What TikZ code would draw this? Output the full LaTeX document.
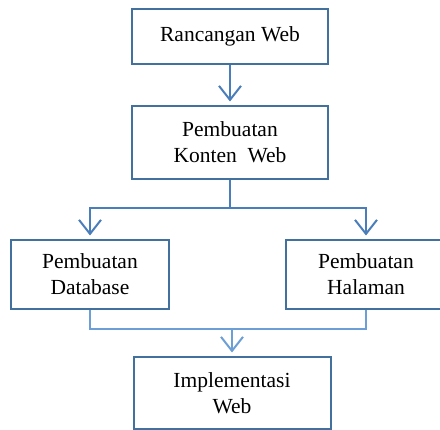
\documentclass[tikz,border=0pt]{standalone}
\usepackage{fontspec}
\setmainfont{Liberation Serif}
\usetikzlibrary{arrows.meta}
\definecolor{frame}{HTML}{41719C}
\definecolor{flow}{HTML}{4A7EBB}
\definecolor{merge}{HTML}{6C9FD6}

\begin{document}
\begin{tikzpicture}[x=1pt, y=-1pt,
    box/.style={shape=rectangle, draw=frame, line width=2pt, align=center,
      font=\fontsize{21.5}{26}\selectfont, inner sep=0pt},
    flowline/.style={draw=flow, line width=2pt},
    arrow/.style={flowline, -{Straight Barb[length=14pt, width=22pt]}, shorten >=3.5pt}]
    \useasboundingbox (0,0) rectangle (440,430);
    \clip (0,0) rectangle (440,430);

    \node at (230, 36.5) (rancangan) [box, minimum width=196pt, minimum height=55pt] {Rancangan Web};
    \node at (230, 142.5) (konten) [box, minimum width=196pt, minimum height=73pt] {Pembuatan\\Konten~~Web};

    \node at (90, 274.5) (database) [box, minimum width=158pt, minimum height=69pt] {Pembuatan\\Database};
    \node at (366, 274.5) (halaman) [box, minimum width=160pt, minimum height=69pt] {Pembuatan\\Halaman};

    \node at (232, 393) (implementasi) [box, minimum width=197pt, minimum height=72pt] {Implementasi\\Web};

    \coordinate (split) at (230, 208);
    \coordinate (join) at (232, 329);

    \draw[arrow] (rancangan.south) -- (konten.north);
    \draw[flowline] (konten.south) -- (split);
    \draw[arrow] (split) -| (database.north);
    \draw[arrow] (split) -| (halaman.north);

    \draw[draw=merge, line width=1.5pt] (database.south) |- (join) -| (halaman.south);
    \draw[arrow, draw=merge] (join) -- (implementasi.north);
  \end{tikzpicture}
\end{document}
